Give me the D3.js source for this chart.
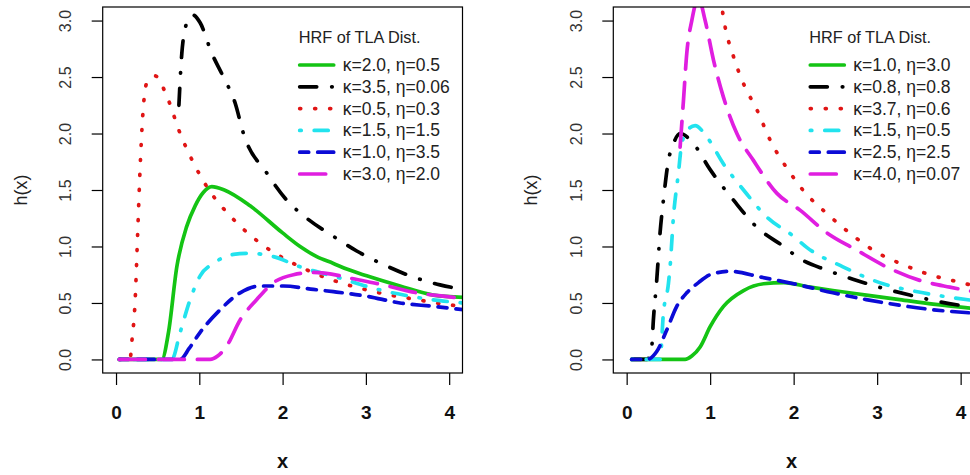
<!DOCTYPE html>
<html>
<head>
<meta charset="utf-8">
<script src="https://cdn.jsdelivr.net/npm/d3@7"></script>
<style>
  body { margin:0; background:#fff; }
  text { font-family: "Liberation Sans", Arial, sans-serif; }
</style>
</head>
<body>
<div id="chart"></div>
<script>
// ticks
var xTicks = [0, 1, 2, 3, 4]
var yTicks = [0, 0.5, 1, 1.5, 2, 2.5, 3]
var legendTitle = "HRF of TLA Dist."

// left panel as [x, h(x)]
var leftLabels = ["κ=2.0, η=0.5", "κ=3.5, η=0.06", "κ=0.5, η=0.3", "κ=1.5, η=1.5", "κ=1.0, η=3.5", "κ=3.0, η=2.0"]
var leftGreen = [[0.04,0],[0.55,0],[0.63,0.24],[0.73,0.82],[0.85,1.18],[0.95,1.36],[1.05,1.48],[1.15,1.53],[1.3,1.5],[1.61,1.36],[2.0,1.12],[2.21,1.0],[2.41,0.91],[2.61,0.85],[2.77,0.8],[3.01,0.74],[3.41,0.65],[3.81,0.57],[4.17,0.55]]
var leftBlack = [[0.755,2.25],[0.79,2.71],[0.85,2.98],[0.92,3.05],[1.01,2.98],[1.15,2.71],[1.29,2.5],[1.43,2.27],[1.53,2.0],[1.81,1.65],[2.05,1.41],[2.29,1.25],[2.61,1.09],[2.89,0.96],[3.21,0.84],[3.53,0.74],[3.89,0.66],[4.17,0.62]]
var leftRed = [[0.04,0],[0.17,0],[0.185,0.12],[0.23,0.53],[0.26,1.12],[0.29,1.71],[0.32,2.15],[0.37,2.45],[0.47,2.51],[0.61,2.33],[0.77,2.0],[0.93,1.74],[1.09,1.53],[1.41,1.24],[1.73,1.03],[2.05,0.88],[2.3,0.79],[2.57,0.71],[2.93,0.63],[3.29,0.57],[3.61,0.53],[3.93,0.49],[4.17,0.47]]
var leftCyan = [[0.04,0],[0.67,0],[0.77,0.24],[0.89,0.53],[1.01,0.74],[1.17,0.85],[1.41,0.93],[1.61,0.94],[1.89,0.91],[2.21,0.82],[2.69,0.72],[3.09,0.63],[3.53,0.56],[3.89,0.52],[4.17,0.5]]
var leftBlue = [[0.04,0],[0.77,0],[0.88,0.1],[1.01,0.24],[1.25,0.44],[1.49,0.59],[1.73,0.65],[2.01,0.65],[2.37,0.62],[2.61,0.6],[3.01,0.56],[3.41,0.5],[3.81,0.47],[4.17,0.44]]
var leftMagenta = [[0.04,0],[1.13,0],[1.22,0.03],[1.33,0.12],[1.49,0.35],[1.69,0.53],[1.89,0.68],[2.13,0.75],[2.37,0.77],[2.69,0.74],[2.81,0.72],[3.21,0.66],[3.61,0.59],[3.93,0.56],[4.17,0.54]]

// right panel
var rightLabels = ["κ=1.0, η=3.0", "κ=0.8, η=0.8", "κ=3.7, η=0.6", "κ=1.5, η=0.5", "κ=2.5, η=2.5", "κ=4.0, η=0.07"]
var rightGreen = [[0.06,0],[0.7,0],[0.78,0.03],[0.88,0.11],[1.0,0.29],[1.16,0.47],[1.4,0.61],[1.64,0.67],[1.88,0.68],[2.2,0.64],[2.47,0.61],[2.87,0.57],[3.27,0.53],[3.67,0.49],[4.17,0.45]]
var rightBlack = [[0.06,0],[0.24,0],[0.3,0.11],[0.32,0.35],[0.36,0.7],[0.4,1.12],[0.44,1.41],[0.5,1.76],[0.56,1.91],[0.64,2.0],[0.8,1.91],[1.0,1.68],[1.28,1.41],[1.56,1.17],[1.88,1.0],[2.08,0.89],[2.4,0.79],[2.71,0.71],[3.07,0.63],[3.39,0.57],[3.75,0.51],[4.17,0.46]]
var rightRed = [[1.06,3.6],[1.17,2.98],[1.28,2.68],[1.4,2.44],[1.56,2.21],[1.72,1.94],[1.96,1.65],[2.11,1.5],[2.4,1.29],[2.67,1.12],[2.99,0.95],[3.31,0.84],[3.63,0.75],[3.95,0.69],[4.17,0.65]]
var rightCyan = [[0.06,0],[0.4,0],[0.44,0.41],[0.5,0.67],[0.52,0.82],[0.56,1.26],[0.62,1.65],[0.66,1.91],[0.74,2.04],[0.82,2.07],[0.96,1.97],[1.16,1.73],[1.4,1.5],[1.68,1.26],[2.0,1.09],[2.16,0.99],[2.59,0.82],[3.07,0.67],[3.55,0.59],[4.17,0.52]]
var rightBlue = [[0.06,0],[0.24,0],[0.36,0.07],[0.48,0.26],[0.6,0.47],[0.72,0.59],[0.86,0.68],[1.0,0.75],[1.24,0.78],[1.6,0.73],[2.0,0.67],[2.47,0.59],[2.87,0.53],[3.27,0.48],[3.67,0.44],[4.17,0.41]]
var rightMagenta = [[0.64,1.88],[0.68,2.29],[0.72,2.71],[0.78,3.0],[0.86,3.2],[0.94,3.0],[1.04,2.65],[1.16,2.32],[1.32,2.0],[1.52,1.76],[1.8,1.47],[2.08,1.32],[2.4,1.12],[2.75,0.97],[3.11,0.82],[3.51,0.7],[3.87,0.64],[4.17,0.6]]

var styles = [
  {color:"#14c414", dash:null},
  {color:"#000000", dash:"17,15,0.5,15"},
  {color:"#e01515", dash:"1,14"},
  {color:"#22e3ee", dash:"1.5,13,14,13"},
  {color:"#0b0bd6", dash:"9,9,17,9"},
  {color:"#e01ee0", dash:"26,13"}
]

var svg = d3.select("#chart").append("svg").attr("width",970).attr("height",475)

function drawPanel(id, x0, x1, series, labels){
	var x = d3.scaleLinear().domain([-0.16,4.16]).range([x0,x1])
	var y = d3.scaleLinear().domain([-0.12,3.12]).range([373,7])
	var g = svg.append("g")

	g.append("clipPath").attr("id","clip"+id)
		.append("rect").attr("x",x0).attr("y",7).attr("width",x1-x0).attr("height",366)

	var line = d3.line()
		.x(function(d){ return x(d[0]) })
		.y(function(d){ return y(d[1]) })
		.curve(d3.curveMonotoneX)

	var lines = g.append("g").attr("clip-path","url(#clip"+id+")")
	series.forEach(function(s,i){
		lines.append("path")
			.attr("d", line(s))
			.attr("fill","none")
			.attr("stroke", styles[i].color)
			.attr("stroke-width",3.7)
			.attr("stroke-linecap","round")
			.attr("stroke-linejoin","round")
			.attr("stroke-dasharray", styles[i].dash)
	})

	// box
	g.append("rect").attr("x",x0).attr("y",7).attr("width",x1-x0).attr("height",366)
		.attr("fill","none").attr("stroke","#000").attr("stroke-width",1.2)

	var xAxis = g.append("g").attr("transform","translate(0,373)")
		.call(d3.axisBottom(x).tickValues(xTicks).tickSize(12).tickSizeOuter(0).tickFormat(d3.format("d")))
	xAxis.select(".domain").remove()
	xAxis.selectAll("line").attr("stroke","#000").attr("stroke-width",1.2)
	xAxis.selectAll("text").attr("y",39).attr("dy",null).attr("dominant-baseline","central")
		.attr("font-size",19).attr("font-weight","bold").attr("fill","#111")
		.style("font-family","'Liberation Sans', Arial, sans-serif")

	var yAxis = g.append("g").attr("transform","translate("+x0+",0)")
		.call(d3.axisLeft(y).tickValues(yTicks).tickSize(11).tickSizeOuter(0).tickFormat(d3.format(".1f")))
	yAxis.select(".domain").remove()
	yAxis.selectAll("line").attr("stroke","#000").attr("stroke-width",1.2)
	yAxis.selectAll("text").attr("transform","rotate(-90)").attr("x",0).attr("y",-37).attr("dy",null)
		.attr("text-anchor","middle").attr("dominant-baseline","central")
		.attr("font-size",16).attr("fill","#333")
		.style("font-family","'Liberation Sans', Arial, sans-serif")

	g.append("text").attr("transform","translate("+(x0-82)+",190) rotate(-90)")
		.attr("text-anchor","middle").attr("dominant-baseline","central")
		.attr("font-size",18).attr("fill","#222").text("h(x)")

	g.append("text").attr("x",(x0+x1)/2 - (id=="R"?2:0)).attr("y",461)
		.attr("text-anchor","middle").attr("dominant-baseline","central")
		.attr("font-size",20).attr("font-weight","bold").attr("fill","#111").text("x")

	// legend
	var lg = g.append("g").attr("transform","translate("+(x0+195)+",0)")
	lg.append("text").attr("x",1).attr("y",37).attr("dominant-baseline","central")
		.attr("font-size",16.3).attr("fill","#222").text(legendTitle)
	labels.forEach(function(l,i){
		var yy = 65 + i*21.8
		lg.append("line").attr("x1",2).attr("x2",36).attr("y1",yy).attr("y2",yy)
			.attr("stroke",styles[i].color).attr("stroke-width",3.7)
			.attr("stroke-linecap","round")
			.attr("stroke-dasharray",styles[i].dash)
		lg.append("text").attr("x",45).attr("y",yy).attr("dominant-baseline","central")
			.attr("font-size",17.5).attr("fill","#222").text(l)
	})
}

drawPanel("L", 102.7, 462.5, [leftGreen,leftBlack,leftRed,leftCyan,leftBlue,leftMagenta], leftLabels)
drawPanel("R", 613.3, 974, [rightGreen,rightBlack,rightRed,rightCyan,rightBlue,rightMagenta], rightLabels)
</script>
</body>
</html>
